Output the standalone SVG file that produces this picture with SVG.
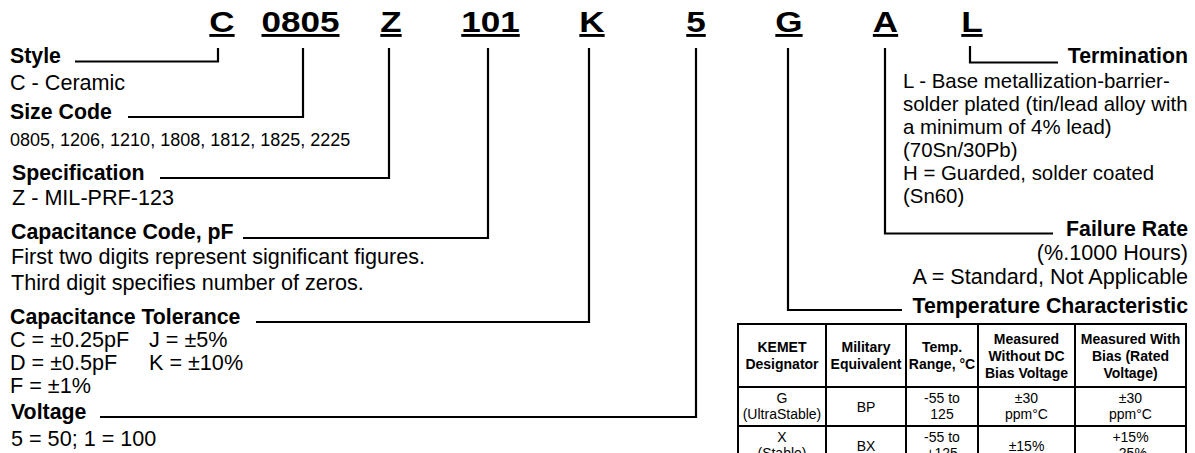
<svg xmlns="http://www.w3.org/2000/svg" width="1195" height="453" viewBox="0 0 1195 453">
<style>
text{font-family:"Liberation Sans",Arial,sans-serif;fill:#000}
.code{font-size:29px;font-weight:bold;text-decoration:underline;text-anchor:middle}
.h{font-size:21.3px;font-weight:bold}
.b{font-size:21.6px}
.t{font-size:20.4px}
.r{text-anchor:end}
.sm{font-size:18px}
.th{font-size:14px;font-weight:bold;text-anchor:middle}
.td{font-size:14px;text-anchor:middle}
.conn{fill:none;stroke:#000;stroke-width:2.2}
.grid{fill:none;stroke:#000;stroke-width:2}
</style>
<rect width="1195" height="453" fill="#fff"/>
<g id="code">
<text class="code" x="222" y="32" textLength="25.3" lengthAdjust="spacingAndGlyphs">C</text>
<text class="code" x="300.5" y="32" textLength="78" lengthAdjust="spacingAndGlyphs">0805</text>
<text class="code" x="391" y="32" textLength="21.4" lengthAdjust="spacingAndGlyphs">Z</text>
<text class="code" x="490.5" y="32" textLength="58.5" lengthAdjust="spacingAndGlyphs">101</text>
<text class="code" x="592" y="32" textLength="25.3" lengthAdjust="spacingAndGlyphs">K</text>
<text class="code" x="696" y="32" textLength="19.5" lengthAdjust="spacingAndGlyphs">5</text>
<text class="code" x="789" y="32" textLength="27.3" lengthAdjust="spacingAndGlyphs">G</text>
<text class="code" x="885.5" y="32" textLength="25.3" lengthAdjust="spacingAndGlyphs">A</text>
<text class="code" x="972" y="32" textLength="21.4" lengthAdjust="spacingAndGlyphs">L</text>
</g>
<g id="connectors">
<path class="conn" d="M218 48V61.5H75"/>
<path class="conn" d="M303 48V117H128"/>
<path class="conn" d="M389 48V178H160"/>
<path class="conn" d="M488 48V238H243"/>
<path class="conn" d="M589 48V322H256"/>
<path class="conn" d="M696 48V417H100"/>
<path class="conn" d="M788 48V310H902"/>
<path class="conn" d="M885 48V233.5H1053"/>
<path class="conn" d="M970 46V62.5H1058"/>
</g>
<g id="style">
<text class="h" x="10" y="63">Style</text>
<text class="b" x="10" y="90">C - Ceramic</text>
</g>
<g id="size-code">
<text class="h" x="10" y="119">Size Code</text>
<text class="sm" x="10" y="146">0805, 1206, 1210, 1808, 1812, 1825, 2225</text>
</g>
<g id="specification">
<text class="h" x="12" y="180">Specification</text>
<text class="b" x="12" y="205">Z - MIL-PRF-123</text>
</g>
<g id="capacitance-code">
<text class="h" x="11" y="239">Capacitance Code, pF</text>
<text class="b" x="11" y="264">First two digits represent significant figures.</text>
<text class="b" x="11" y="290">Third digit specifies number of zeros.</text>
</g>
<g id="capacitance-tolerance">
<text class="h" x="10" y="324">Capacitance Tolerance</text>
<text class="b" x="10" y="347">C = ±0.25pF</text>
<text class="b" x="149" y="347">J = ±5%</text>
<text class="b" x="10" y="370">D = ±0.5pF</text>
<text class="b" x="149" y="370">K = ±10%</text>
<text class="b" x="10" y="393">F = ±1%</text>
</g>
<g id="voltage">
<text class="h" x="11" y="419">Voltage</text>
<text class="b" x="11" y="446">5 = 50; 1 = 100</text>
</g>
<g id="termination">
<text class="h r" x="1188" y="63">Termination</text>
<text class="t" x="903" y="88">L - Base metallization-barrier-</text>
<text class="t" x="903" y="111">solder plated (tin/lead alloy with</text>
<text class="t" x="903" y="134">a minimum of 4% lead)</text>
<text class="t" x="903" y="157">(70Sn/30Pb)</text>
<text class="t" x="903" y="180">H = Guarded, solder coated</text>
<text class="t" x="903" y="203">(Sn60)</text>
</g>
<g id="failure-rate">
<text class="h r" x="1188" y="236">Failure Rate</text>
<text class="b r" x="1188" y="260">(%.1000 Hours)</text>
<text class="b r" x="1188" y="284">A = Standard, Not Applicable</text>
</g>
<g id="temperature-characteristic">
<text class="h r" x="1188" y="313">Temperature Characteristic</text>
<g id="table">
<path class="grid" d="M738 465V324H1186V465M826 324V465M906 324V465M978 324V465M1075 324V465M738 387H1186M738 426H1186"/>
<text class="th" x="782" y="352">KEMET</text>
<text class="th" x="782" y="369">Designator</text>
<text class="th" x="866" y="352">Military</text>
<text class="th" x="866" y="369">Equivalent</text>
<text class="th" x="942" y="352">Temp.</text>
<text class="th" x="942" y="369">Range, °C</text>
<text class="th" x="1026.5" y="344">Measured</text>
<text class="th" x="1026.5" y="361">Without DC</text>
<text class="th" x="1026.5" y="378">Bias Voltage</text>
<text class="th" x="1130.5" y="344">Measured With</text>
<text class="th" x="1130.5" y="361">Bias (Rated</text>
<text class="th" x="1130.5" y="378">Voltage)</text>
<text class="td" x="782" y="403">G</text>
<text class="td" x="782" y="419">(UltraStable)</text>
<text class="td" x="866" y="412">BP</text>
<text class="td" x="942" y="403">-55 to</text>
<text class="td" x="942" y="419">125</text>
<text class="td" x="1026.5" y="403">±30</text>
<text class="td" x="1026.5" y="419">ppm°C</text>
<text class="td" x="1130.5" y="403">±30</text>
<text class="td" x="1130.5" y="419">ppm°C</text>
<text class="td" x="782" y="442">X</text>
<text class="td" x="782" y="458">(Stable)</text>
<text class="td" x="866" y="451">BX</text>
<text class="td" x="942" y="442">-55 to</text>
<text class="td" x="942" y="458">+125</text>
<text class="td" x="1026.5" y="451">±15%</text>
<text class="td" x="1130.5" y="442">+15%</text>
<text class="td" x="1130.5" y="458">-25%</text>
</g>
</g>
</svg>
